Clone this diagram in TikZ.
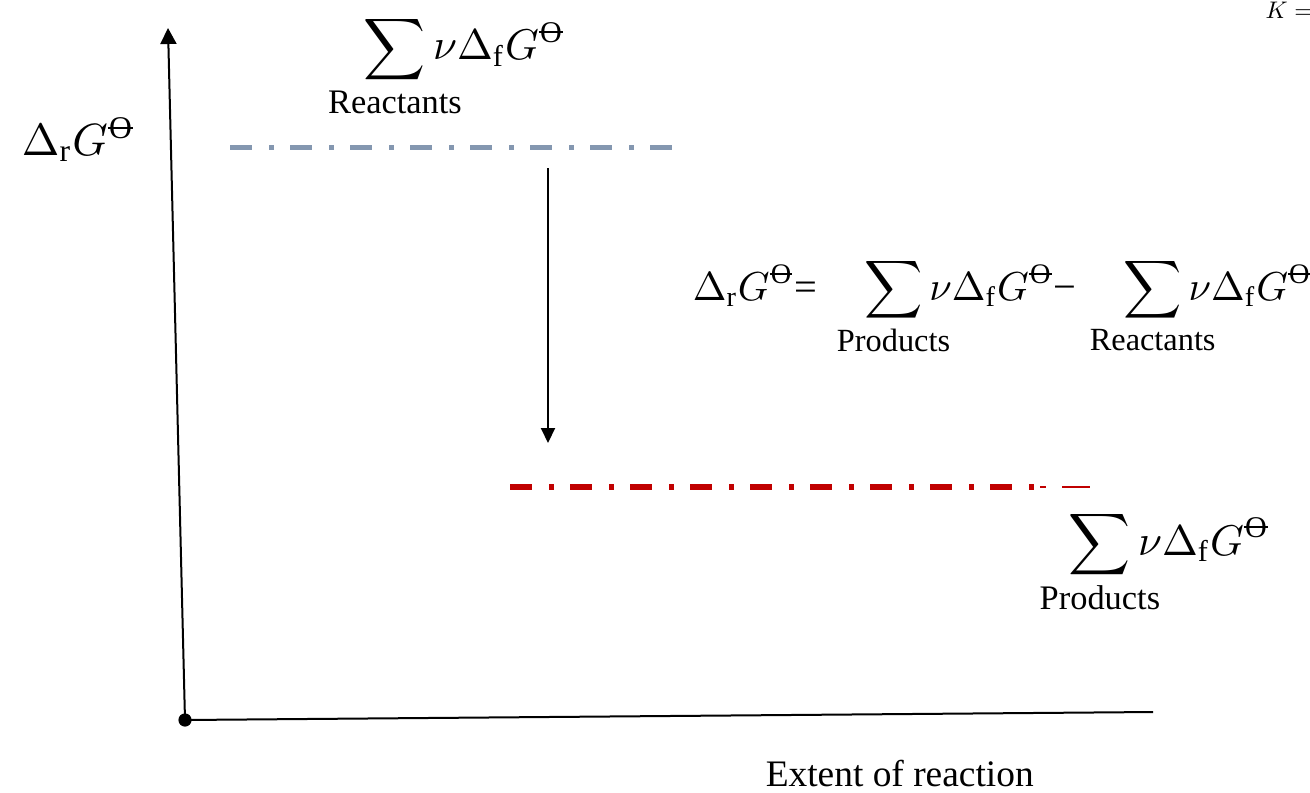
\documentclass[tikz,border=0pt]{standalone}
\usepackage{fontspec}
\setmainfont{Liberation Serif}
\usepackage{amsmath,mathtools}
\usetikzlibrary{arrows.meta}
\definecolor{niveaugris}{RGB}{132,151,176}
\definecolor{niveaurouge}{RGB}{192,0,0}
\newcommand{\stdo}{\text{\ooalign{\hfil O\hfil\cr\hfil\rule[0.31em]{0.8em}{0.05em}\hfil\cr}}}
\newcommand{\somme}[1]{\sum_{\mathclap{\text{\footnotesize #1}}}\nu\Delta_{\mathrm f}G^{\stdo}}
\tikzset{
  formule/.style={scale=2.15, inner sep=0pt, anchor=base west},
  niveau/.style={line width=2.5pt, dash pattern=on 11pt off 8.5pt on 2.5pt off 8pt},
}
\begin{document}
\begin{tikzpicture}[x=0.5pt,y=-0.5pt]
                \useasboundingbox (0,0) rectangle (1310,792);
                % Axes
                \coordinate (origine) at (185,720);
                \coordinate (haut) at (168,28);
                \coordinate (droite) at (1153,712);
                \draw[line width=1pt,-{Triangle[length=8pt,width=8pt]}] (origine) -- (haut);
                \draw[line width=1pt] (origine) -- (droite);
                \fill (origine) circle[radius=3.3pt];
                % Niveaux
                \coordinate (reacG) at (230,147);
                \coordinate (reacD) at (672,147);
                \draw[niveau, niveaugris] (reacG) -- (reacD);
                \coordinate (prodG) at (510,487);
                \coordinate (prodD) at (1040,487);
                \coordinate (prodF) at (1095,487);
                \draw[niveau, niveaurouge, line width=2.8pt] (prodG) -- (prodD);
                \draw[niveaurouge, line width=0.7pt, dash pattern=on 3pt off 8pt on 14pt off 8pt] (prodD) -- (prodF);
                % Fleche
                \coordinate (depart) at (548,168);
                \coordinate (arrivee) at (548,443);
                \draw[line width=1pt,-{Triangle[length=7.5pt,width=7pt]}] (depart) -- (arrivee);
                % Textes
                \node[formule] (sommeR) at (363,60) {$\displaystyle\somme{Reactants}$};
                \node[formule, scale=1.05] (axeG) at (21,155) {$\Delta_{\mathrm r}G^{\stdo}$};
                \node[formule, scale=0.94] (relation) at (692,300) {$\displaystyle\Delta_{\mathrm r}G^{\stdo}\text{=}\quad\somme{Products}\text{\char"2212}\quad\somme{Reactants}$};
                \node[formule] (sommeP) at (1068,555) {$\displaystyle\somme{Products}$};
                \node[scale=1.87, inner sep=0pt, anchor=base west] (axeX) at (765,786) {Extent of reaction};
                \node[scale=1.2, inner sep=0pt, anchor=base west] (constante) at (1265,19) {$K =$};
\end{tikzpicture}
\end{document}
